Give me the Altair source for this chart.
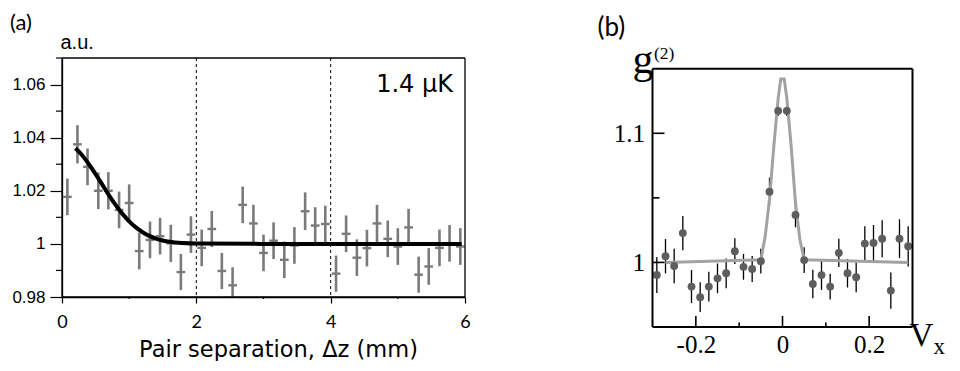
import altair as alt
import pandas as pd

# ---------------- Panel (a) data ----------------
A_Z = [0.08, 0.23, 0.38, 0.54, 0.69, 0.85, 1.00, 1.15, 1.31, 1.46, 1.62, 1.77, 1.92,
       2.08, 2.23, 2.38, 2.54, 2.69, 2.85, 3.00, 3.15, 3.31, 3.46, 3.62, 3.77, 3.92,
       4.08, 4.23, 4.39, 4.54, 4.69, 4.85, 5.00, 5.16, 5.31, 5.46, 5.62, 5.77, 5.93]
A_G = [1.0177, 1.0375, 1.0290, 1.0200, 1.0200, 1.0128, 1.0154, 0.9973, 1.0015, 1.0029,
       1.0002, 0.9894, 1.0035, 0.9985, 1.0056, 0.9898, 0.9844, 1.0147, 1.0077, 0.9966,
       1.0012, 0.9940, 0.9994, 1.0123, 1.0069, 1.0075, 0.9888, 1.0038, 0.9948, 0.9984,
       1.0077, 1.0019, 0.9990, 1.0062, 0.9884, 0.9915, 0.9985, 1.0002, 0.9990]
A_GERR = [0.0069, 0.0072, 0.0069, 0.0069, 0.0070, 0.0069, 0.0070, 0.0069, 0.0069, 0.0069,
          0.0070, 0.0068, 0.0069, 0.0069, 0.0068, 0.0068, 0.0068, 0.0069, 0.0070, 0.0069,
          0.0069, 0.0069, 0.0069, 0.0071, 0.0069, 0.0069, 0.0068, 0.0069, 0.0069, 0.0069,
          0.0070, 0.0069, 0.0069, 0.0070, 0.0068, 0.0069, 0.0069, 0.0069, 0.0069]
A_ZERR = 0.065
A_FIT_Z = [0.2, 0.3, 0.4, 0.5, 0.6, 0.7, 0.8, 0.9, 1.0, 1.1, 1.2, 1.3, 1.4, 1.5, 1.6,
           1.8, 2.0, 3.0, 4.0, 5.0, 5.95]
A_FIT_G = [1.0360, 1.0334, 1.0300, 1.0263, 1.0223, 1.0183, 1.0146, 1.0113, 1.0085, 1.0062,
           1.0044, 1.0030, 1.0020, 1.0013, 1.0008, 1.0003, 1.0001, 1.0, 1.0, 1.0, 1.0]
A_DASH_Z = [2, 4]
A_MAJOR_X = [0, 2, 4, 6]
A_MINOR_X = [1, 3, 5]
A_MAJOR_Y = [0.98, 1.00, 1.02, 1.04, 1.06]
A_MINOR_Y = [0.99, 1.01, 1.03, 1.05, 1.07]
A_XDOMAIN = [0, 6]
A_YDOMAIN = [0.98, 1.07]
A_LABEL = "1.4 μK"
A_TAG = "(a)"
A_XTITLE = "Pair separation, Δz (mm)"
A_YTITLE = "a.u."

# ---------------- Panel (b) data ----------------
B_V = [-0.29, -0.27, -0.25, -0.23, -0.21, -0.19, -0.17, -0.15, -0.13, -0.11,
       -0.09, -0.07, -0.05, -0.03, -0.01, 0.01, 0.03, 0.05, 0.07, 0.09,
       0.11, 0.13, 0.15, 0.17, 0.19, 0.21, 0.23, 0.25, 0.27, 0.29]
B_G = [0.9903, 1.0048, 0.9972, 1.0227, 0.9813, 0.9731, 0.9813, 0.9877, 0.9916, 1.0087,
       0.9966, 0.9949, 1.0010, 1.0547, 1.1174, 1.1174, 1.0368, 1.0018, 0.9833, 0.9902,
       0.9813, 1.0074, 0.9916, 0.9885, 1.0146, 1.0150, 1.0184, 0.9782, 1.0184, 1.0125]
B_GERR = [0.0140, 0.0133, 0.0134, 0.0133, 0.0128, 0.0115, 0.0115, 0.0115, 0.0115, 0.0100,
          0.0100, 0.0100, 0.0096, 0.0110, 0.0040, 0.0040, 0.0096, 0.0100, 0.0110, 0.0115,
          0.0100, 0.0110, 0.0110, 0.0115, 0.0134, 0.0140, 0.0143, 0.0140, 0.0150, 0.0156]
B_FIT_V = [-0.27, -0.05, -0.04, -0.03, -0.02, -0.01, -0.004, 0.004, 0.01, 0.02, 0.03,
           0.04, 0.05, 0.29]
B_FIT_G = [1.0, 1.002, 1.020, 1.049, 1.090, 1.127, 1.142, 1.142, 1.127, 1.090, 1.046,
           1.018, 1.002, 1.0]
B_MAJOR_X = [-0.2, 0, 0.2]
B_MINOR_X = [-0.1, 0.1]
B_MAJOR_Y = [1.0, 1.1]
B_MINOR_Y = [1.05]
B_XDOMAIN = [-0.3, 0.3]
B_YFRAME = [0.95, 1.15]
B_YDOMAIN = [0.95, 1.1583]
B_TAG = "(b)"


def frame_df(xd, yd):
    # four edges of a box at the axis limits
    return pd.DataFrame({
        "xa": [xd[0], xd[0], xd[0], xd[1]],
        "xb": [xd[1], xd[1], xd[0], xd[1]],
        "ya": [yd[0], yd[1], yd[0], yd[0]],
        "yb": [yd[0], yd[1], yd[1], yd[1]],
    })


# ---------------- Panel (a) ----------------
WA, HA = 403, 239
GREY_A = "#7a7a7a"

dfA = pd.DataFrame({"z": A_Z, "g": A_G, "err": A_GERR})
dfA["lo"] = (dfA["g"] - dfA["err"]).clip(lower=A_YDOMAIN[0])
dfA["hi"] = dfA["g"] + dfA["err"]
dfA["zl"] = dfA["z"] - A_ZERR
dfA["zr"] = dfA["z"] + A_ZERR
dfFitA = pd.DataFrame({"z": A_FIT_Z, "g": A_FIT_G})

sxA = alt.Scale(domain=A_XDOMAIN, nice=False, zero=False)
syA = alt.Scale(domain=A_YDOMAIN, nice=False, zero=False)
axA_x = alt.Axis(values=A_MAJOR_X, tickSize=6, tickWidth=1.2, tickColor="black",
                 domainColor="black", domainWidth=1.3, grid=False,
                 labelFont="Lato", labelFontSize=18, labelColor="black",
                 labelPadding=10, labelFlush=False,
                 title=A_XTITLE, titleFont="DejaVu Sans", titleFontSize=22.5,
                 titleFontWeight="normal", titleColor="black", titleAlign="center",
                 titleBaseline="alphabetic", titleX=216, titleY=59)
axA_y = alt.Axis(values=A_MAJOR_Y, tickSize=12, tickWidth=1.2, tickColor="black",
                 domainColor="black", domainWidth=1.3, grid=False,
                 labelFont="Liberation Sans", labelFontSize=17, labelColor="black",
                 labelPadding=5, labelFlush=False,
                 labelExpr="format(datum.value, '~g')",
                 title=A_YTITLE, titleFont="Liberation Sans", titleFontSize=20,
                 titleFontWeight="normal", titleColor="black", titleAngle=0,
                 titleAlign="left", titleBaseline="alphabetic", titleX=-2, titleY=-10)

frameA = alt.Chart(frame_df(A_XDOMAIN, A_YDOMAIN)).mark_rule(color="black", strokeWidth=1.3).encode(
    x=alt.X("xa:Q", scale=sxA, axis=axA_x), x2="xb:Q",
    y=alt.Y("ya:Q", scale=syA, axis=axA_y), y2="yb:Q",
)
dashA = alt.Chart(pd.DataFrame({"z": A_DASH_Z})).mark_rule(
    color="black", strokeWidth=1, strokeDash=[3, 3]
).encode(x=alt.X("z:Q", scale=sxA, axis=axA_x))

vbarsA = alt.Chart(dfA).mark_rule(color=GREY_A, strokeWidth=2.6).encode(
    x=alt.X("z:Q", scale=sxA, axis=axA_x),
    y=alt.Y("lo:Q", scale=syA, axis=axA_y),
    y2="hi:Q",
)
hbarsA = alt.Chart(dfA).mark_rule(color=GREY_A, strokeWidth=2.4).encode(
    x=alt.X("zl:Q", scale=sxA, axis=axA_x),
    x2="zr:Q",
    y=alt.Y("g:Q", scale=syA, axis=axA_y),
)
fitA = alt.Chart(dfFitA).mark_line(color="black", strokeWidth=4, interpolate="monotone").encode(
    x=alt.X("z:Q", scale=sxA, axis=axA_x),
    y=alt.Y("g:Q", scale=syA, axis=axA_y),
)
minorYA = alt.Chart(pd.DataFrame({"g": A_MINOR_Y})).mark_rule(color="black", strokeWidth=1.2).encode(
    y=alt.Y("g:Q", scale=syA, axis=axA_y), x=alt.value(-6), x2=alt.value(0)
)
minorXA = alt.Chart(pd.DataFrame({"z": A_MINOR_X})).mark_rule(color="black", strokeWidth=1.2).encode(
    x=alt.X("z:Q", scale=sxA, axis=axA_x), y=alt.value(HA), y2=alt.value(HA + 2)
)
labelA = alt.Chart(pd.DataFrame({"t": [A_LABEL]})).mark_text(
    align="right", baseline="alphabetic", font="DejaVu Sans", fontSize=24, color="black"
).encode(x=alt.value(391), y=alt.value(33.5), text="t:N")
tagA = alt.Chart(pd.DataFrame({"t": [A_TAG]})).mark_text(
    align="left", baseline="alphabetic", font="Lato", fontSize=22, color="black"
).encode(x=alt.value(-52), y=alt.value(-28), text="t:N")

panelA = alt.layer(dashA, vbarsA, hbarsA, fitA, minorYA, minorXA, labelA, tagA, frameA).properties(
    width=WA, height=HA
)

# ---------------- Panel (b) ----------------
WB, HB = 260, 269
PT_B = "#5e5e5e"
FIT_B = "#a2a2a2"

dfB = pd.DataFrame({"v": B_V, "g": B_G, "err": B_GERR})
dfB["lo"] = dfB["g"] - dfB["err"]
dfB["hi"] = dfB["g"] + dfB["err"]
dfFitB = pd.DataFrame({"v": B_FIT_V, "g": B_FIT_G})

sxB = alt.Scale(domain=B_XDOMAIN, nice=False, zero=False)
syB = alt.Scale(domain=B_YDOMAIN, nice=False, zero=False)
axB_x = alt.Axis(values=B_MAJOR_X, ticks=False, domain=False, grid=False,
                 labelFont="Liberation Serif", labelFontSize=25, labelColor="black",
                 labelPadding=5, labelFlush=False,
                 labelExpr="datum.value < 0 ? '-' + format(-datum.value, '~g') : format(datum.value, '~g')",
                 title=None)
axB_y = alt.Axis(values=B_MAJOR_Y, ticks=False, domain=False, grid=False,
                 labelFont="Liberation Serif", labelFontSize=25, labelColor="black",
                 labelPadding=8, labelFlush=False,
                 labelExpr="format(datum.value, '~g')", title=None)

frameB = alt.Chart(frame_df(B_XDOMAIN, B_YFRAME)).mark_rule(color="black", strokeWidth=2).encode(
    x=alt.X("xa:Q", scale=sxB, axis=axB_x), x2="xb:Q",
    y=alt.Y("ya:Q", scale=syB, axis=axB_y), y2="yb:Q",
)
tickYB = alt.Chart(pd.DataFrame({"g": B_MAJOR_Y})).mark_rule(color="black", strokeWidth=1.6).encode(
    y=alt.Y("g:Q", scale=syB, axis=axB_y), x=alt.value(0), x2=alt.value(12)
)
minorYB = alt.Chart(pd.DataFrame({"g": B_MINOR_Y})).mark_rule(color="black", strokeWidth=1.6).encode(
    y=alt.Y("g:Q", scale=syB, axis=axB_y), x=alt.value(0), x2=alt.value(7)
)
tickXB = alt.Chart(pd.DataFrame({"v": B_MAJOR_X})).mark_rule(color="black", strokeWidth=1.6).encode(
    x=alt.X("v:Q", scale=sxB, axis=axB_x), y=alt.value(HB), y2=alt.value(HB - 11)
)
minorXB = alt.Chart(pd.DataFrame({"v": B_MINOR_X})).mark_rule(color="black", strokeWidth=1.6).encode(
    x=alt.X("v:Q", scale=sxB, axis=axB_x), y=alt.value(HB), y2=alt.value(HB - 4.5)
)
ebarsB = alt.Chart(dfB).mark_rule(color="black", strokeWidth=1.3).encode(
    x=alt.X("v:Q", scale=sxB, axis=axB_x),
    y=alt.Y("lo:Q", scale=syB, axis=axB_y),
    y2="hi:Q",
)
fitLineB = alt.Chart(dfFitB).mark_line(color=FIT_B, strokeWidth=3).encode(
    x=alt.X("v:Q", scale=sxB, axis=axB_x),
    y=alt.Y("g:Q", scale=syB, axis=axB_y),
)
pointsB = alt.Chart(dfB).mark_circle(color=PT_B, size=62, opacity=1).encode(
    x=alt.X("v:Q", scale=sxB, axis=axB_x),
    y=alt.Y("g:Q", scale=syB, axis=axB_y),
)


def txt(s, font, size, x, y):
    return alt.Chart(pd.DataFrame({"t": [s]})).mark_text(
        align="left", baseline="alphabetic", font=font, fontSize=size, color="black"
    ).encode(x=alt.value(x), y=alt.value(y), text="t:N")


tagB = txt(B_TAG, "Lato", 26, -55, -22)
gB = txt("g", "Liberation Serif", 42, -20, 15)
supB = txt("(2)", "Liberation Serif", 17.5, 1.5, 1)
vB = txt("V", "Liberation Serif", 33, 257, 287.5)
subB = txt("x", "Liberation Serif", 23, 281, 296)

panelB = alt.layer(
    ebarsB, fitLineB, pointsB, tagB, gB, supB, vB, subB,
    frameB, tickYB, minorYB, tickXB, minorXB,
).properties(width=WB, height=HB)

chart = alt.hconcat(panelA, panelB, spacing=125.5).properties(
    padding={"left": 1, "top": 3, "right": 0, "bottom": 0}
).configure_view(stroke="transparent")

chart.save("out.html", embed_options={"renderer": "svg", "actions": False})
